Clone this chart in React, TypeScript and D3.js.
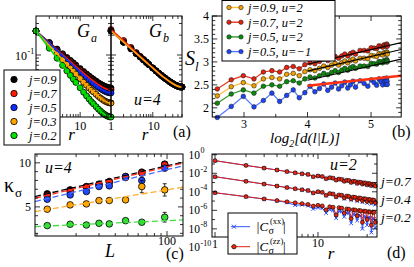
import React from "react";
import * as d3 from "d3";

const SERIF = "'Liberation Serif','Times New Roman',Times,serif";

// ---------------- (a) G_a, G_b (log10 values) ----------------
const rA = [1, 2, 3, 4, 5, 6, 7, 8, 10, 12, 14, 16, 18, 20, 23, 26, 29, 32, 35, 38, 41, 44, 47, 50];
const gaJ09 = [-0.636, -0.809, -0.91, -0.981, -1.036, -1.081, -1.119, -1.152, -1.206, -1.25, -1.287, -1.318, -1.345, -1.366, -1.395, -1.42, -1.44, -1.456, -1.47, -1.48, -1.488, -1.494, -1.498, -1.499];
const gaJ07 = [-0.636, -0.815, -0.92, -0.994, -1.051, -1.097, -1.136, -1.171, -1.227, -1.273, -1.311, -1.343, -1.371, -1.393, -1.423, -1.449, -1.469, -1.486, -1.5, -1.511, -1.52, -1.526, -1.529, -1.53];
const gaJ05 = [-0.636, -0.824, -0.933, -1.011, -1.071, -1.12, -1.161, -1.197, -1.256, -1.304, -1.344, -1.378, -1.407, -1.43, -1.462, -1.488, -1.51, -1.528, -1.543, -1.554, -1.563, -1.569, -1.573, -1.574];
const gaJ03 = [-0.636, -0.855, -0.982, -1.072, -1.142, -1.199, -1.247, -1.289, -1.357, -1.413, -1.459, -1.499, -1.533, -1.559, -1.596, -1.628, -1.653, -1.673, -1.691, -1.704, -1.714, -1.721, -1.726, -1.727];
const gaJ02 = [-0.636, -0.897, -1.049, -1.157, -1.24, -1.308, -1.365, -1.415, -1.497, -1.564, -1.619, -1.667, -1.708, -1.739, -1.783, -1.82, -1.85, -1.875, -1.895, -1.911, -1.923, -1.932, -1.937, -1.939];
const gbMain = [-0.636, -0.806, -0.905, -0.976, -1.03, -1.074, -1.111, -1.144, -1.197, -1.241, -1.277, -1.308, -1.334, -1.355, -1.383, -1.408, -1.427, -1.443, -1.457, -1.467, -1.475, -1.481, -1.484, -1.485];
const gbJ07 = [-0.615, -0.78, -0.885, -0.962, -1.02, -1.066, -1.105, -1.14, -1.195, -1.241, -1.277, -1.308, -1.334, -1.355, -1.383, -1.408, -1.427, -1.443, -1.457, -1.467, -1.475, -1.481, -1.484, -1.485];
const legendA = ["j=0.9", "j=0.7", "j=0.5", "j=0.3", "j=0.2"];

// ---------------- (b) entanglement entropy ----------------
const xsB = [2.579, 2.799, 2.989, 3.157, 3.305, 3.439, 3.561, 3.672, 3.775, 3.87, 3.958, 4.04, 4.116, 4.188, 4.255, 4.319, 4.379, 4.435, 4.489, 4.539, 4.587, 4.633, 4.676, 4.717, 4.756, 4.827, 4.891, 4.95, 5.002, 5.048, 5.089, 5.125, 5.156, 5.183, 5.205, 5.223, 5.238, 5.247, 5.253, 5.256];
const sJ09u2 = [2.26, 2.46, 2.55, 2.48, 2.63, 2.66, 2.63, 2.73, 2.75, 2.7, 2.79, 2.83, 2.81, 2.86, 2.91, 2.88, 2.93, 2.97, 2.93, 2.98, 3.02, 2.98, 3.03, 3.06, 3.02, 3.08, 3.08, 3.07, 3.14, 3.13, 3.12, 3.18, 3.17, 3.15, 3.2, 3.19, 3.17, 3.22, 3.2, 3.17];
const sJ07u2 = [2.41, 2.61, 2.7, 2.63, 2.78, 2.81, 2.78, 2.88, 2.9, 2.85, 2.94, 2.98, 2.96, 3.01, 3.06, 3.03, 3.08, 3.12, 3.08, 3.13, 3.17, 3.13, 3.18, 3.21, 3.17, 3.25, 3.25, 3.24, 3.31, 3.3, 3.29, 3.35, 3.34, 3.32, 3.37, 3.36, 3.34, 3.39, 3.37, 3.34];
const sJ05u2 = [2.1, 2.3, 2.39, 2.32, 2.47, 2.5, 2.47, 2.57, 2.59, 2.54, 2.63, 2.67, 2.65, 2.7, 2.75, 2.72, 2.77, 2.81, 2.77, 2.82, 2.86, 2.82, 2.87, 2.9, 2.86, 2.91, 2.91, 2.9, 2.97, 2.96, 2.95, 3.01, 3.0, 2.98, 3.03, 3.02, 3.0, 3.05, 3.03, 3.0];
const sJ05um1 = [1.79, 2.03, 2.25, 2.02, 2.16, 2.32, 2.14, 2.27, 2.39, 2.22, 2.33, 2.47, 2.35, 2.42, 2.52, 2.38, 2.45, 2.54, 2.41, 2.48, 2.56, 2.43, 2.5, 2.58, 2.45, 2.59, 2.53, 2.47, 2.61, 2.55, 2.49, 2.63, 2.57, 2.5, 2.64, 2.58, 2.51, 2.65, 2.58, 2.51];
const fitXB = [4.0, 5.475];
const fitJ07 = [2.95, 3.42];
const fitJ09 = [2.8, 3.27];
const fitJ05 = [2.6, 3.06];
const fitJ05m = [2.48, 2.7];
const legendB = ["j=0.9, u=2", "j=0.7, u=2", "j=0.5, u=2", "j=0.5, u=\u22121"];

// ---------------- (c) kappa_sigma ----------------
const Lc = [12, 18, 24, 30, 36, 48, 64, 96];
const kJ09 = [6.48, 6.93, 7.31, 7.58, 7.88, 8.44, 8.94, 9.85];
const kJ07 = [6.29, 6.74, 7.23, 7.5, 7.8, 8.33, 8.83, 9.77];
const kJ05 = [5.87, 6.36, 6.74, 7.31, 7.39, 8.44, 7.99, 9.4];
const kJ03 = [4.74, 5.23, 5.34, 5.72, 5.72, 5.8, 7.31, 6.93];
const kJ02 = [2.88, 3.03, 2.95, 3.14, 3.07, 3.44, 3.26, 3.83];
const eJ09 = [0.08, 0.08, 0.08, 0.1, 0.1, 0.15, 0.2, 0.3];
const eJ07 = [0.08, 0.08, 0.08, 0.1, 0.1, 0.15, 0.2, 0.3];
const eJ05 = [0.08, 0.08, 0.08, 0.1, 0.1, 0.2, 0.3, 0.3];
const eJ03 = [0.08, 0.08, 0.08, 0.1, 0.1, 0.15, 0.7, 0.7];
const eJ02 = [0.05, 0.05, 0.05, 0.1, 0.1, 0.2, 0.1, 0.55];
const fitLc = [9.66, 132.7];
const kfJ09 = [6.17, 10.08];
const kfJ07 = [5.99, 9.97];
const kfJ05 = [5.6, 9.66];
const kfJ03 = [4.47, 7.24];
const kfJ02 = [2.77, 3.52];

// ---------------- (d) correlations (log10 |C|) ----------------
const rD = [1, 2, 3, 4, 5, 6, 7, 8, 9, 10, 11, 12, 13, 14, 15, 16, 17, 18, 19, 20, 21, 22, 23, 24, 25, 26, 27, 28, 29, 30, 31, 32, 33, 34, 35, 36];
const czz07 = [-0.64, -1.15, -1.44, -1.65, -1.82, -1.95, -2.06, -2.12, -2.37, -2.29, -2.35, -2.58, -2.48, -2.53, -2.74, -2.63, -2.67, -2.87, -2.76, -2.79, -2.99, -2.86, -2.89, -3.09, -2.96, -2.98, -3.17, -3.04, -3.06, -3.25, -3.11, -3.14, -3.32, -3.18, -3.2, -3.38];
const cxx07 = [-0.64, -1.15, -1.44, -1.65, -1.82, -1.95, -2.06, -2.12, -2.37, -2.29, -2.35, -2.58, -2.48, -2.53, -2.74, -2.63, -2.67, -2.87, -2.76, -2.79, -2.99, -2.86, -2.89, -3.1, -2.97, -2.99, -3.19, -3.05, -3.08, -3.28, -3.13, -3.16, -3.36, -3.2, -3.23, -3.42];
const czz04 = [-2.37, -2.87, -3.17, -3.38, -3.54, -3.67, -3.78, -3.86, -4.12, -3.99, -4.06, -4.38, -4.19, -4.24, -4.54, -4.34, -4.38, -4.67, -4.46, -4.5, -4.78, -4.57, -4.6, -4.88, -4.66, -4.69, -4.97, -4.74, -4.77, -5.04, -4.82, -4.84, -5.11, -4.88, -4.91, -5.18];
const cxx04 = [-2.37, -2.87, -3.17, -3.38, -3.54, -3.67, -3.78, -3.87, -4.14, -4.01, -4.08, -4.42, -4.22, -4.27, -4.6, -4.38, -4.43, -4.75, -4.52, -4.56, -4.88, -4.63, -4.67, -5.0, -4.74, -4.77, -5.12, -4.83, -4.86, -5.22, -4.92, -4.95, -5.3, -5.0, -5.03, -5.4];
const czz02 = [-4.1, -4.52, -4.77, -4.94, -5.08, -5.19, -5.28, -5.36, -5.54, -5.46, -5.52, -5.95, -5.62, -5.66, -6.5, -5.71, -5.76, -6.3, -5.85, -5.88, -6.9, -5.94, -5.97, -6.6, -6.02, -6.04, -7.3, -6.09, -6.11, -7.0, -6.15, -6.17, -7.6, -6.2, -6.22, -7.3];
const cxx02 = [-4.1, -4.53, -4.79, -4.98, -5.15, -5.45, -5.4, -5.5, -5.85, -5.7, -5.78, -6.3, -5.92, -6.0, -6.85, -6.1, -6.15, -6.7, -6.25, -6.3, -7.4, -6.4, -6.45, -7.1, -6.52, -6.58, -8.0, -6.65, -6.7, -7.6, -6.78, -6.82, -8.4, -6.88, -6.92, -7.9];
const labelsD = ["j=0.7", "j=0.4", "j=0.2"];

const pow10 = (a: number[]) => a.map((v) => Math.pow(10, v));

const tick = (sc: any, vals: number[], orient: "x" | "y", at: number, dir: number, len: number, k: string) =>
  vals.map((v, i) => {
    const p = sc(v);
    return orient === "x" ? (
      <line key={k + i} x1={p} x2={p} y1={at} y2={at + dir * len} stroke="#000" strokeWidth={0.8} />
    ) : (
      <line key={k + i} x1={at} x2={at + dir * len} y1={p} y2={p} stroke="#000" strokeWidth={0.8} />
    );
  });

export default function App() {
  // ---- scales
  const xGa = d3.scaleLog().domain([1, 50]).range([36, 111]);
  const xGb = d3.scaleLog().domain([1, 50]).range([111, 182]);
  const yA = d3.scaleLog().domain([Math.pow(10, -1.939), Math.pow(10, -0.409)]).range([117, 16]);
  const xB = d3.scaleLinear().domain([2.5, 5.475]).range([212.25, 401.2]);
  const yB = d3.scaleLinear().domain([1.8, 4.0]).range([117, 16]);
  const xC = d3.scaleLog().domain([9.66, 132.7]).range([35, 183]);
  const yC = d3.scaleLinear().domain([1.7, 11]).range([236, 154]);
  const xD = d3.scaleLog().domain([0.935, 37.4]).range([212, 377]);
  const yD = d3.scaleLog().domain([Math.pow(10, -8.88), Math.pow(10, 0.08)]).range([237, 154]);

  const colA = ["#000000", "#ff1a00", "#0a2cff", "#ffa500", "#00e000"];
  const gaS = [gaJ09, gaJ07, gaJ05, gaJ03, gaJ02].map(pow10);
  const gbS = [gbMain, gbJ07, gbMain, gbMain].map(pow10);
  const gbCol = ["#000000", "#ff1a00", "#0a2cff", "#ffa500"];

  const lineGa = (vals: number[]) => d3.line<number>().x((_, i) => xGa(rA[i])).y((v) => yA(v))(vals) || "";
  const lineGb = (vals: number[]) => d3.line<number>().x((_, i) => xGb(rA[i])).y((v) => yA(v))(vals) || "";

  const sB = [sJ09u2, sJ07u2, sJ05u2, sJ05um1];
  const mkB = ["#f0a000", "#e8200c", "#0a8a0a", "#1a44ff"];
  const lnB = ["#ffb833", "#e8341c", "#2a9a2a", "#5577ff"];
  const lineB = (vals: number[]) => d3.line<number>().x((_, i) => xB(xsB[i])).y((v) => yB(v))(vals) || "";
  const fitLine = (ys: number[]) => d3.line<number>().x((_, i) => xB(fitXB[i])).y((v) => yB(v))(ys) || "";

  const kS = [kJ09, kJ07, kJ05, kJ03, kJ02];
  const kE = [eJ09, eJ07, eJ05, eJ03, eJ02];
  const kF = [kfJ09, kfJ07, kfJ05, kfJ03, kfJ02];
  const colC = ["#000000", "#ff2010", "#1f48ff", "#ffa500", "#33dd33"];
  const dashC = ["#000000", "#ff2a1a", "#4a6bff", "#ffae30", "#44dd44"];
  const fitC = (ys: number[]) => d3.line<number>().x((_, i) => xC(fitLc[i])).y((v) => yC(v))(ys) || "";

  const zzS = [czz07, czz04, czz02].map(pow10);
  const xxS = [cxx07, cxx04, cxx02].map(pow10);
  const lineD = (vals: number[]) => d3.line<number>().x((_, i) => xD(rD[i])).y((v) => yD(v))(vals) || "";

  const minorDec = [2, 3, 4, 5, 6, 7, 8, 9, 20, 30, 40, 50];
  const yAminor = [0.02, 0.03, 0.04, 0.05, 0.06, 0.07, 0.08, 0.09, 0.2, 0.3];
  const bYmaj = [2, 2.5, 3, 3.5, 4];
  const bYmin = d3.range(19, 40).map((v) => v / 10).filter((v) => Math.abs(v * 2 - Math.round(v * 2)) > 1e-6);
  const dYmaj = [0, -2, -4, -6, -8].map((e) => Math.pow(10, e));
  const dYmin = [-1, -3, -5, -7].map((e) => Math.pow(10, e));

  const xMark = (cx: number, cy: number, s: number, k: string, c: string) => (
    <path key={k} d={`M${cx - s},${cy - s}L${cx + s},${cy + s}M${cx - s},${cy + s}L${cx + s},${cy - s}`} stroke={c} strokeWidth={1} fill="none" />
  );

  return (
    <svg width={414} height={267} style={{ position: "absolute", left: 0, top: 0, background: "#fff" }} fontFamily={SERIF}>
      <rect x={0} y={0} width={414} height={267} fill="#fff" />

      {/* ================= (a) ================= */}
      {gaS.map((s, si) =>
        s.map((v, i) => <circle key={`gam${si}-${i}`} cx={xGa(rA[i])} cy={yA(v)} r={3} fill={colA[si]} stroke="#000" strokeWidth={0.8} />)
      )}
      {gaS.map((s, si) => (
        <path key={`gal${si}`} d={lineGa(s)} fill="none" stroke={colA[si]} strokeWidth={1.6} />
      ))}
      {[3, 2, 1, 0].map((si) =>
        gbS[si].map((v, i) => <circle key={`gbm${si}-${i}`} cx={xGb(rA[i])} cy={yA(v)} r={3} fill={gbCol[si]} stroke="#000" strokeWidth={0.8} />)
      )}
      {[0, 2, 1, 3].map((si) => (
        <path key={`gbl${si}`} d={lineGb(gbS[si])} fill="none" stroke={gbCol[si]} strokeWidth={1.6} />
      ))}
      <rect x={36} y={16} width={75} height={101} fill="none" stroke="#000" strokeWidth={1} />
      <rect x={111} y={16} width={71} height={101} fill="none" stroke="#000" strokeWidth={1} />
      {tick(xGa, [10], "x", 117, -1, 5, "ga1")}
      {tick(xGa, [10], "x", 16, 1, 5, "ga2")}
      {tick(xGa, minorDec, "x", 117, -1, 3, "ga3")}
      {tick(xGa, minorDec, "x", 16, 1, 3, "ga4")}
      {tick(xGb, [10], "x", 117, -1, 5, "gb1")}
      {tick(xGb, [10], "x", 16, 1, 5, "gb2")}
      {tick(xGb, minorDec, "x", 117, -1, 3, "gb3")}
      {tick(xGb, minorDec, "x", 16, 1, 3, "gb4")}
      {tick(yA, [0.1], "y", 36, 1, 5, "ya1")}
      {tick(yA, yAminor, "y", 36, 1, 3, "ya2")}
      {tick(yA, [0.1], "y", 111, -1, 5, "ya3")}
      {tick(yA, yAminor, "y", 111, -1, 3, "ya4")}
      {tick(yA, [0.1], "y", 111, 1, 5, "ya5")}
      {tick(yA, yAminor, "y", 111, 1, 3, "ya6")}
      {tick(yA, [0.1], "y", 182, -1, 5, "ya7")}
      {tick(yA, yAminor, "y", 182, -1, 3, "ya8")}
      <text x={27} y={yA(0.1) + 4.5} fontSize={12} textAnchor="end">10</text>
      <text x={27.5} y={yA(0.1) - 1} fontSize={8}>-1</text>
      <text x={xGa(10)} y={130} fontSize={12} textAnchor="middle">10</text>
      <text x={xGb(1)} y={130} fontSize={12} textAnchor="middle">1</text>
      <text x={xGb(10) + 1} y={130} fontSize={12} textAnchor="middle">10</text>
      <text x={71.5} y={140} fontSize={17} fontStyle="italic" textAnchor="middle">r</text>
      <text x={145} y={140} fontSize={17} fontStyle="italic" textAnchor="middle">r</text>
      <text x={173} y={137} fontSize={16}>(a)</text>
      <text x={77} y={37} fontSize={18} fontStyle="italic">G</text>
      <text x={91} y={41.5} fontSize={12} fontStyle="italic">a</text>
      <text x={149} y={37} fontSize={18} fontStyle="italic">G</text>
      <text x={163} y={41.5} fontSize={12} fontStyle="italic">b</text>
      <text x={134} y={105} fontSize={16} fontStyle="italic">u=4</text>
      <rect x={4} y={70} width={56} height={75} fill="#fff" stroke="#000" strokeWidth={1} />
      {legendA.map((t, i) => (
        <g key={`lga${i}`}>
          <circle cx={14} cy={79.5 + i * 14} r={3.2} fill={colA[i]} stroke="#000" strokeWidth={0.8} />
          <text x={29} y={84 + i * 14} fontSize={12.5} fontStyle="italic">{t}</text>
        </g>
      ))}

      {/* ================= (b) ================= */}
      {sB.map((s, si) => (
        <path key={`bl${si}`} d={lineB(s)} fill="none" stroke={lnB[si]} strokeWidth={1.2} />
      ))}
      {sB.map((s, si) =>
        s.map((v, i) => <circle key={`bm${si}-${i}`} cx={xB(xsB[i])} cy={yB(v)} r={2.3} fill={mkB[si]} stroke="#222" strokeWidth={0.6} />)
      )}
      <path d={fitLine(fitJ07)} stroke="#000" strokeWidth={1.1} fill="none" />
      <path d={fitLine(fitJ09)} stroke="#000" strokeWidth={1.1} fill="none" />
      <path d={fitLine(fitJ05)} stroke="#000" strokeWidth={1.1} fill="none" />
      <path d={fitLine(fitJ05m)} stroke="#ff3010" strokeWidth={2.4} fill="none" />
      <rect x={212.25} y={16} width={188.95} height={101} fill="none" stroke="#000" strokeWidth={1} />
      {tick(xB, [3, 4, 5], "x", 117, -1, 5, "bx1")}
      {tick(xB, [3, 4, 5], "x", 16, 1, 5, "bx2")}
      {tick(xB, [3.5, 4.5], "x", 117, -1, 3, "bx3")}
      {tick(xB, [3.5, 4.5], "x", 16, 1, 3, "bx4")}
      {tick(yB, bYmaj, "y", 212.25, 1, 5, "by1")}
      {tick(yB, bYmin, "y", 212.25, 1, 3, "by2")}
      {tick(yB, bYmaj, "y", 401.2, -1, 5, "by3")}
      {tick(yB, bYmin, "y", 401.2, -1, 3, "by4")}
      {[3, 4, 5].map((v) => (
        <text key={`bxl${v}`} x={xB(v)} y={127.5} fontSize={12} textAnchor="middle">{v}</text>
      ))}
      {bYmaj.map((v) => (
        <text key={`byl${v}`} x={209} y={yB(v) + 4} fontSize={12} textAnchor="end">{String(v)}</text>
      ))}
      <text x={185} y={65} fontSize={20} fontStyle="italic">S</text>
      <text x={195} y={71} fontSize={13} fontStyle="italic">l</text>
      <text x={270} y={142.5} fontSize={15} fontStyle="italic">
        log<tspan dy={4} fontSize={10}>2</tspan><tspan dy={-4}>[d(l|L)]</tspan>
      </text>
      <text x={392} y={137} fontSize={16}>(b)</text>
      <rect x={222} y={0.5} width={113} height={60.5} fill="#fff" stroke="#000" strokeWidth={1} />
      {legendB.map((t, i) => {
        const yy = 7.5 + i * 14.7;
        return (
          <g key={`lgb${i}`}>
            <line x1={229} x2={241} y1={yy} y2={yy} stroke={lnB[i]} strokeWidth={1.4} />
            <circle cx={229} cy={yy} r={2.2} fill={mkB[i]} stroke="#222" strokeWidth={0.6} />
            <circle cx={241} cy={yy} r={2.2} fill={mkB[i]} stroke="#222" strokeWidth={0.6} />
            <text x={248} y={yy + 4.5} fontSize={12.5} fontStyle="italic">{t}</text>
          </g>
        );
      })}

      {/* ================= (c) ================= */}
      {kS.map((s, si) => (
        <g key={`cs${si}`}>
          {s.map((v, i) => (
            <g key={`ce${si}-${i}`}>
              <line x1={xC(Lc[i])} x2={xC(Lc[i])} y1={yC(v - kE[si][i])} y2={yC(v + kE[si][i])} stroke="#000" strokeWidth={0.8} />
              <line x1={xC(Lc[i]) - 2} x2={xC(Lc[i]) + 2} y1={yC(v - kE[si][i])} y2={yC(v - kE[si][i])} stroke="#000" strokeWidth={0.8} />
              <line x1={xC(Lc[i]) - 2} x2={xC(Lc[i]) + 2} y1={yC(v + kE[si][i])} y2={yC(v + kE[si][i])} stroke="#000" strokeWidth={0.8} />
            </g>
          ))}
          {s.map((v, i) => (
            <circle key={`cm${si}-${i}`} cx={xC(Lc[i])} cy={yC(v)} r={3.3} fill={colC[si]} stroke="#000" strokeWidth={0.8} />
          ))}
        </g>
      ))}
      {kF.map((f, si) => (
        <path key={`cf${si}`} d={fitC(f)} fill="none" stroke={dashC[si]} strokeWidth={1.3} strokeDasharray="6,3" />
      ))}
      <rect x={35} y={154} width={148} height={82} fill="none" stroke="#000" strokeWidth={1} />
      {tick(xC, [100], "x", 236, -1, 5, "cx1")}
      {tick(xC, [100], "x", 154, 1, 5, "cx2")}
      {tick(xC, [10, 20, 30, 40, 50, 60, 70, 80, 90], "x", 236, -1, 3, "cx3")}
      {tick(xC, [10, 20, 30, 40, 50, 60, 70, 80, 90], "x", 154, 1, 3, "cx4")}
      {tick(yC, [5, 10], "y", 35, 1, 5, "cy1")}
      {tick(yC, [2, 3, 4, 6, 7, 8, 9], "y", 35, 1, 3, "cy2")}
      {tick(yC, [5, 10], "y", 183, -1, 5, "cy3")}
      {tick(yC, [2, 3, 4, 6, 7, 8, 9], "y", 183, -1, 3, "cy4")}
      <text x={31} y={yC(10) + 4} fontSize={12} textAnchor="end">10</text>
      <text x={31} y={yC(5) + 4} fontSize={12} textAnchor="end">5</text>
      <text x={xC(100)} y={244.5} fontSize={12} textAnchor="middle">100</text>
      <text x={4} y={192} fontSize={20}>κ</text>
      <text x={15} y={197} fontSize={13}>σ</text>
      <text x={45} y={173} fontSize={16} fontStyle="italic">u=4</text>
      <text x={110} y={257} fontSize={18} fontStyle="italic" textAnchor="middle">L</text>
      <text x={166} y={259} fontSize={16}>(c)</text>

      {/* ================= (d) ================= */}
      {xxS.map((s, si) => (
        <g key={`dx${si}`}>
          <path d={lineD(s)} fill="none" stroke="#3355ff" strokeWidth={1} />
          {s.map((v, i) => xMark(xD(rD[i]), yD(v), 1.8, `dxm${si}-${i}`, "#2a4cff"))}
        </g>
      ))}
      {zzS.map((s, si) => (
        <g key={`dz${si}`}>
          <path d={lineD(s)} fill="none" stroke="#e0200c" strokeWidth={1} />
          {s.map((v, i) => (
            <circle key={`dzm${si}-${i}`} cx={xD(rD[i])} cy={yD(v)} r={2} fill="#e8280f" stroke="#000" strokeWidth={0.6} />
          ))}
        </g>
      ))}
      <rect x={212} y={154} width={165} height={83} fill="none" stroke="#000" strokeWidth={1} />
      {tick(xD, [1, 10], "x", 237, -1, 5, "dx1")}
      {tick(xD, [1, 10], "x", 154, 1, 5, "dx2")}
      {tick(xD, [2, 3, 4, 5, 6, 7, 8, 9, 20, 30], "x", 237, -1, 3, "dx3")}
      {tick(xD, [2, 3, 4, 5, 6, 7, 8, 9, 20, 30], "x", 154, 1, 3, "dx4")}
      {tick(yD, dYmaj, "y", 212, 1, 5, "dy1")}
      {tick(yD, dYmin, "y", 212, 1, 3, "dy2")}
      {tick(yD, dYmaj, "y", 377, -1, 5, "dy3")}
      {tick(yD, dYmin, "y", 377, -1, 3, "dy4")}
      {[0, -2, -4, -6, -8, -10].map((e) => (
        <g key={`dyl${e}`}>
          <text x={200} y={yD(Math.pow(10, e)) + 4} fontSize={11.5} textAnchor="end">10</text>
          <text x={200.5} y={yD(Math.pow(10, e)) - 1.5} fontSize={8}>{e}</text>
        </g>
      ))}
      <text x={xD(1)} y={248} fontSize={12} textAnchor="middle">1</text>
      <text x={xD(10)} y={247} fontSize={12} textAnchor="middle">10</text>
      <text x={331} y={259} fontSize={17} fontStyle="italic" textAnchor="middle">r</text>
      <text x={387} y={258} fontSize={16}>(d)</text>
      <text x={330} y={170} fontSize={16} fontStyle="italic">u=2</text>
      {labelsD.map((t, i) => (
        <text key={`dl${i}`} x={381} y={186 + i * 18} fontSize={13.5} fontStyle="italic">{t}</text>
      ))}
      <rect x={228} y={213} width={69} height={41} fill="#fff" stroke="#000" strokeWidth={1} />
      <line x1={231} x2={250} y1={226.7} y2={226.7} stroke="#3355ff" strokeWidth={1} />
      {xMark(234, 226.7, 2, "lgdx", "#2a4cff")}
      <line x1={231} x2={250} y1={246.7} y2={246.7} stroke="#e0200c" strokeWidth={1} />
      <circle cx={234} cy={246.7} r={2.2} fill="#e8280f" stroke="#000" strokeWidth={0.6} />
      <text x={256} y={231} fontSize={13} fontStyle="italic">|C</text>
      <text x={268.5} y={234} fontSize={10}>σ</text>
      <text x={270} y={223.5} fontSize={8.5}>(xx)</text>
      <text x={283} y={231} fontSize={13}>|</text>
      <text x={256} y={251} fontSize={13} fontStyle="italic">|C</text>
      <text x={268.5} y={254} fontSize={10}>σ</text>
      <text x={270} y={243.5} fontSize={8.5}>(zz)</text>
      <text x={283} y={251} fontSize={13}>|</text>
    </svg>
  );
}
